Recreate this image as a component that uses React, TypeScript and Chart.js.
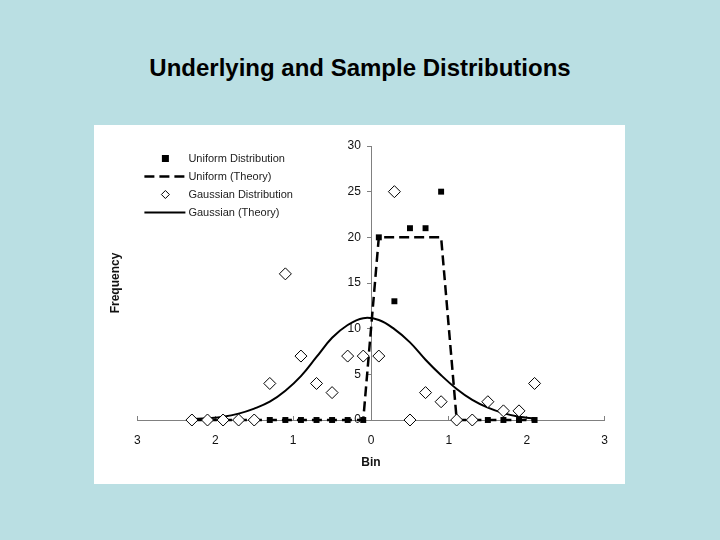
import React, { useEffect, useRef } from "react";
import { Chart, registerables } from "chart.js";

Chart.register(...registerables);

const titleText = "Underlying and Sample Distributions";
const xTitleText = "Bin";
const yTitleText = "Frequency";

const bins = [-2.3, -2.1, -1.9, -1.7, -1.5, -1.3, -1.1, -0.9, -0.7, -0.5, -0.3, -0.1, 0.1, 0.3, 0.5, 0.7, 0.9, 1.1, 1.3, 1.5, 1.7, 1.9, 2.1];
const uniformCounts = [0, 0, 0, 0, 0, 0, 0, 0, 0, 0, 0, 0, 20, 13, 21, 21, 25, 0, 0, 0, 0, 0, 0];
const uniformTheory = [0, 0, 0, 0, 0, 0, 0, 0, 0, 0, 0, 0, 20, 20, 20, 20, 20, 0, 0, 0, 0, 0, 0];
const gaussianCounts = [0, 0, 0, 0, 0, 4, 16, 7, 4, 3, 7, 7, 7, 25, 0, 3, 2, 0, 0, 2, 1, 1, 4];
const gaussianTheory = [0.1, 0.2, 0.36, 0.7, 1.25, 2.0, 3.2, 4.8, 6.9, 9.0, 10.4, 11.15, 10.95, 9.95, 8.5, 6.6, 4.9, 3.4, 2.2, 1.35, 0.75, 0.35, 0.18];

const xTickLabels = ["3", "2", "1", "0", "1", "2", "3"];
const yTickLabels = ["0", "5", "10", "15", "20", "25", "30"];
const seriesNames = ["Uniform Distribution", "Uniform (Theory)", "Gaussian Distribution", "Gaussian (Theory)"];

const FONT = '"Liberation Sans", Arial, Helvetica, sans-serif';

const toPoints = (xs: number[], ys: number[]) => xs.map((x, i) => ({ x, y: ys[i] }));

const insideLegend = {
  id: "insideLegend",
  afterDraw(chart: any) {
    const { ctx, chartArea } = chart;
    const lineStart = chartArea.left + 7;
    const lineEnd = chartArea.left + 48;
    const markerX = chartArea.left + 28;
    const textX = chartArea.left + 51;
    ctx.save();
    ctx.font = `11px ${FONT}`;
    ctx.textBaseline = "middle";
    ctx.textAlign = "left";
    chart.data.datasets.forEach((ds: any, i: number) => {
      const y = Math.round(chartArea.top + 12 + i * 18) + 0.5;
      ctx.strokeStyle = "#000";
      if (ds.showLine) {
        ctx.lineWidth = ds.borderWidth;
        ctx.setLineDash(ds.borderDash || []);
        ctx.beginPath();
        ctx.moveTo(lineStart, y);
        ctx.lineTo(lineEnd, y);
        ctx.stroke();
        ctx.setLineDash([]);
      } else if (ds.pointStyle === "rect") {
        ctx.fillStyle = "#000";
        ctx.fillRect(markerX - 3.5, y - 3.5, 7, 7);
      } else {
        ctx.fillStyle = "#fff";
        ctx.lineWidth = 1;
        ctx.beginPath();
        ctx.moveTo(markerX - 4, y);
        ctx.lineTo(markerX, y - 4);
        ctx.lineTo(markerX + 4, y);
        ctx.lineTo(markerX, y + 4);
        ctx.closePath();
        ctx.fill();
        ctx.stroke();
      }
      ctx.fillStyle = "#222";
      ctx.fillText(ds.label, textX, y);
    });
    ctx.restore();
  },
};

export default function App() {
  const canvasRef = useRef<HTMLCanvasElement | null>(null);

  useEffect(() => {
    const canvas = canvasRef.current;
    if (!canvas) return;
    const chart = new Chart(canvas, {
      type: "scatter",
      data: {
        datasets: [
          {
            label: seriesNames[0],
            data: toPoints(bins, uniformCounts),
            showLine: false,
            pointStyle: "rect",
            pointRadius: 4.2,
            pointBackgroundColor: "#000",
            pointBorderColor: "#000",
            pointBorderWidth: 0,
            backgroundColor: "#000",
            borderColor: "#000",
            clip: false,
            order: 1,
          },
          {
            label: seriesNames[1],
            data: toPoints(bins, uniformTheory),
            showLine: true,
            borderColor: "#000",
            borderWidth: 2.5,
            borderDash: [10, 5],
            pointRadius: 0,
            tension: 0,
            clip: false,
            order: 2,
          },
          {
            label: seriesNames[2],
            data: toPoints(bins, gaussianCounts),
            showLine: false,
            pointStyle: "rectRot",
            pointRadius: 6,
            pointBackgroundColor: "#fff",
            pointBorderColor: "#000",
            pointBorderWidth: 1,
            backgroundColor: "#fff",
            borderColor: "#000",
            clip: false,
            order: 0,
          },
          {
            label: seriesNames[3],
            data: toPoints(bins, gaussianTheory),
            showLine: true,
            borderColor: "#000",
            borderWidth: 2,
            pointRadius: 0,
            tension: 0.4,
            clip: false,
            order: 3,
          },
        ] as any,
      },
      options: {
        animation: false,
        responsive: false,
        devicePixelRatio: 1,
        layout: { padding: { left: 0, top: 21, right: 17, bottom: 0 } },
        plugins: {
          legend: { display: false },
          tooltip: { enabled: false },
          title: { display: false },
        },
        scales: {
          x: {
            type: "linear",
            position: "bottom",
            min: -3,
            max: 3,
            ticks: {
              stepSize: 1,
              padding: 17,
              color: "#111",
              font: { family: FONT, size: 12 },
              callback: (_v: any, i: number) => xTickLabels[i],
            },
            grid: { drawOnChartArea: false, drawTicks: true, tickLength: -4, color: "#808080" },
            border: { display: true, color: "#808080", width: 1 },
            title: {
              display: true,
              text: xTitleText,
              color: "#111",
              font: { family: FONT, size: 12, weight: "bold" },
              padding: { top: -8.8, bottom: 14 },
            },
          },
          y: {
            type: "linear",
            position: { x: 0 } as any,
            min: 0,
            max: 30,
            ticks: { stepSize: 5, display: false },
            grid: { drawOnChartArea: false, drawTicks: true, tickLength: 4, color: "#808080" },
            border: { display: true, color: "#808080", width: 1 },
          },
          yLabels: {
            type: "linear",
            axis: "y",
            position: { x: -0.13 } as any,
            min: 0,
            max: 30,
            ticks: {
              stepSize: 5,
              color: "#111",
              font: { family: FONT, size: 12 },
              callback: (_v: any, i: number) => yTickLabels[i],
            },
            grid: { display: false, drawTicks: false },
            border: { display: false },
          },
          yTitle: {
            type: "linear",
            position: "left",
            min: 0,
            max: 30,
            ticks: { display: false },
            grid: { display: false, drawTicks: false },
            border: { display: false },
            title: {
              display: true,
              text: yTitleText,
              color: "#111",
              font: { family: FONT, size: 12, weight: "bold" },
              padding: { top: 14, bottom: 15 },
            },
          },
        } as any,
      },
      plugins: [insideLegend],
    });
    return () => chart.destroy();
  }, []);

  return (
    <div
      style={{
        position: "absolute",
        left: 0,
        top: 0,
        width: 720,
        height: 540,
        background: "#badfe3",
        overflow: "hidden",
      }}
    >
      <div
        style={{
          position: "absolute",
          left: 0,
          top: 54,
          width: 720,
          textAlign: "center",
          fontFamily: FONT,
          fontWeight: "bold",
          fontSize: 24,
          lineHeight: "28px",
          color: "#000",
        }}
      >
        {titleText}
      </div>
      <div
        style={{
          position: "absolute",
          left: 94,
          top: 125,
          width: 531,
          height: 359,
          background: "#fff",
        }}
      >
        <canvas ref={canvasRef} width={531} height={359} style={{ display: "block" }} />
      </div>
    </div>
  );
}
